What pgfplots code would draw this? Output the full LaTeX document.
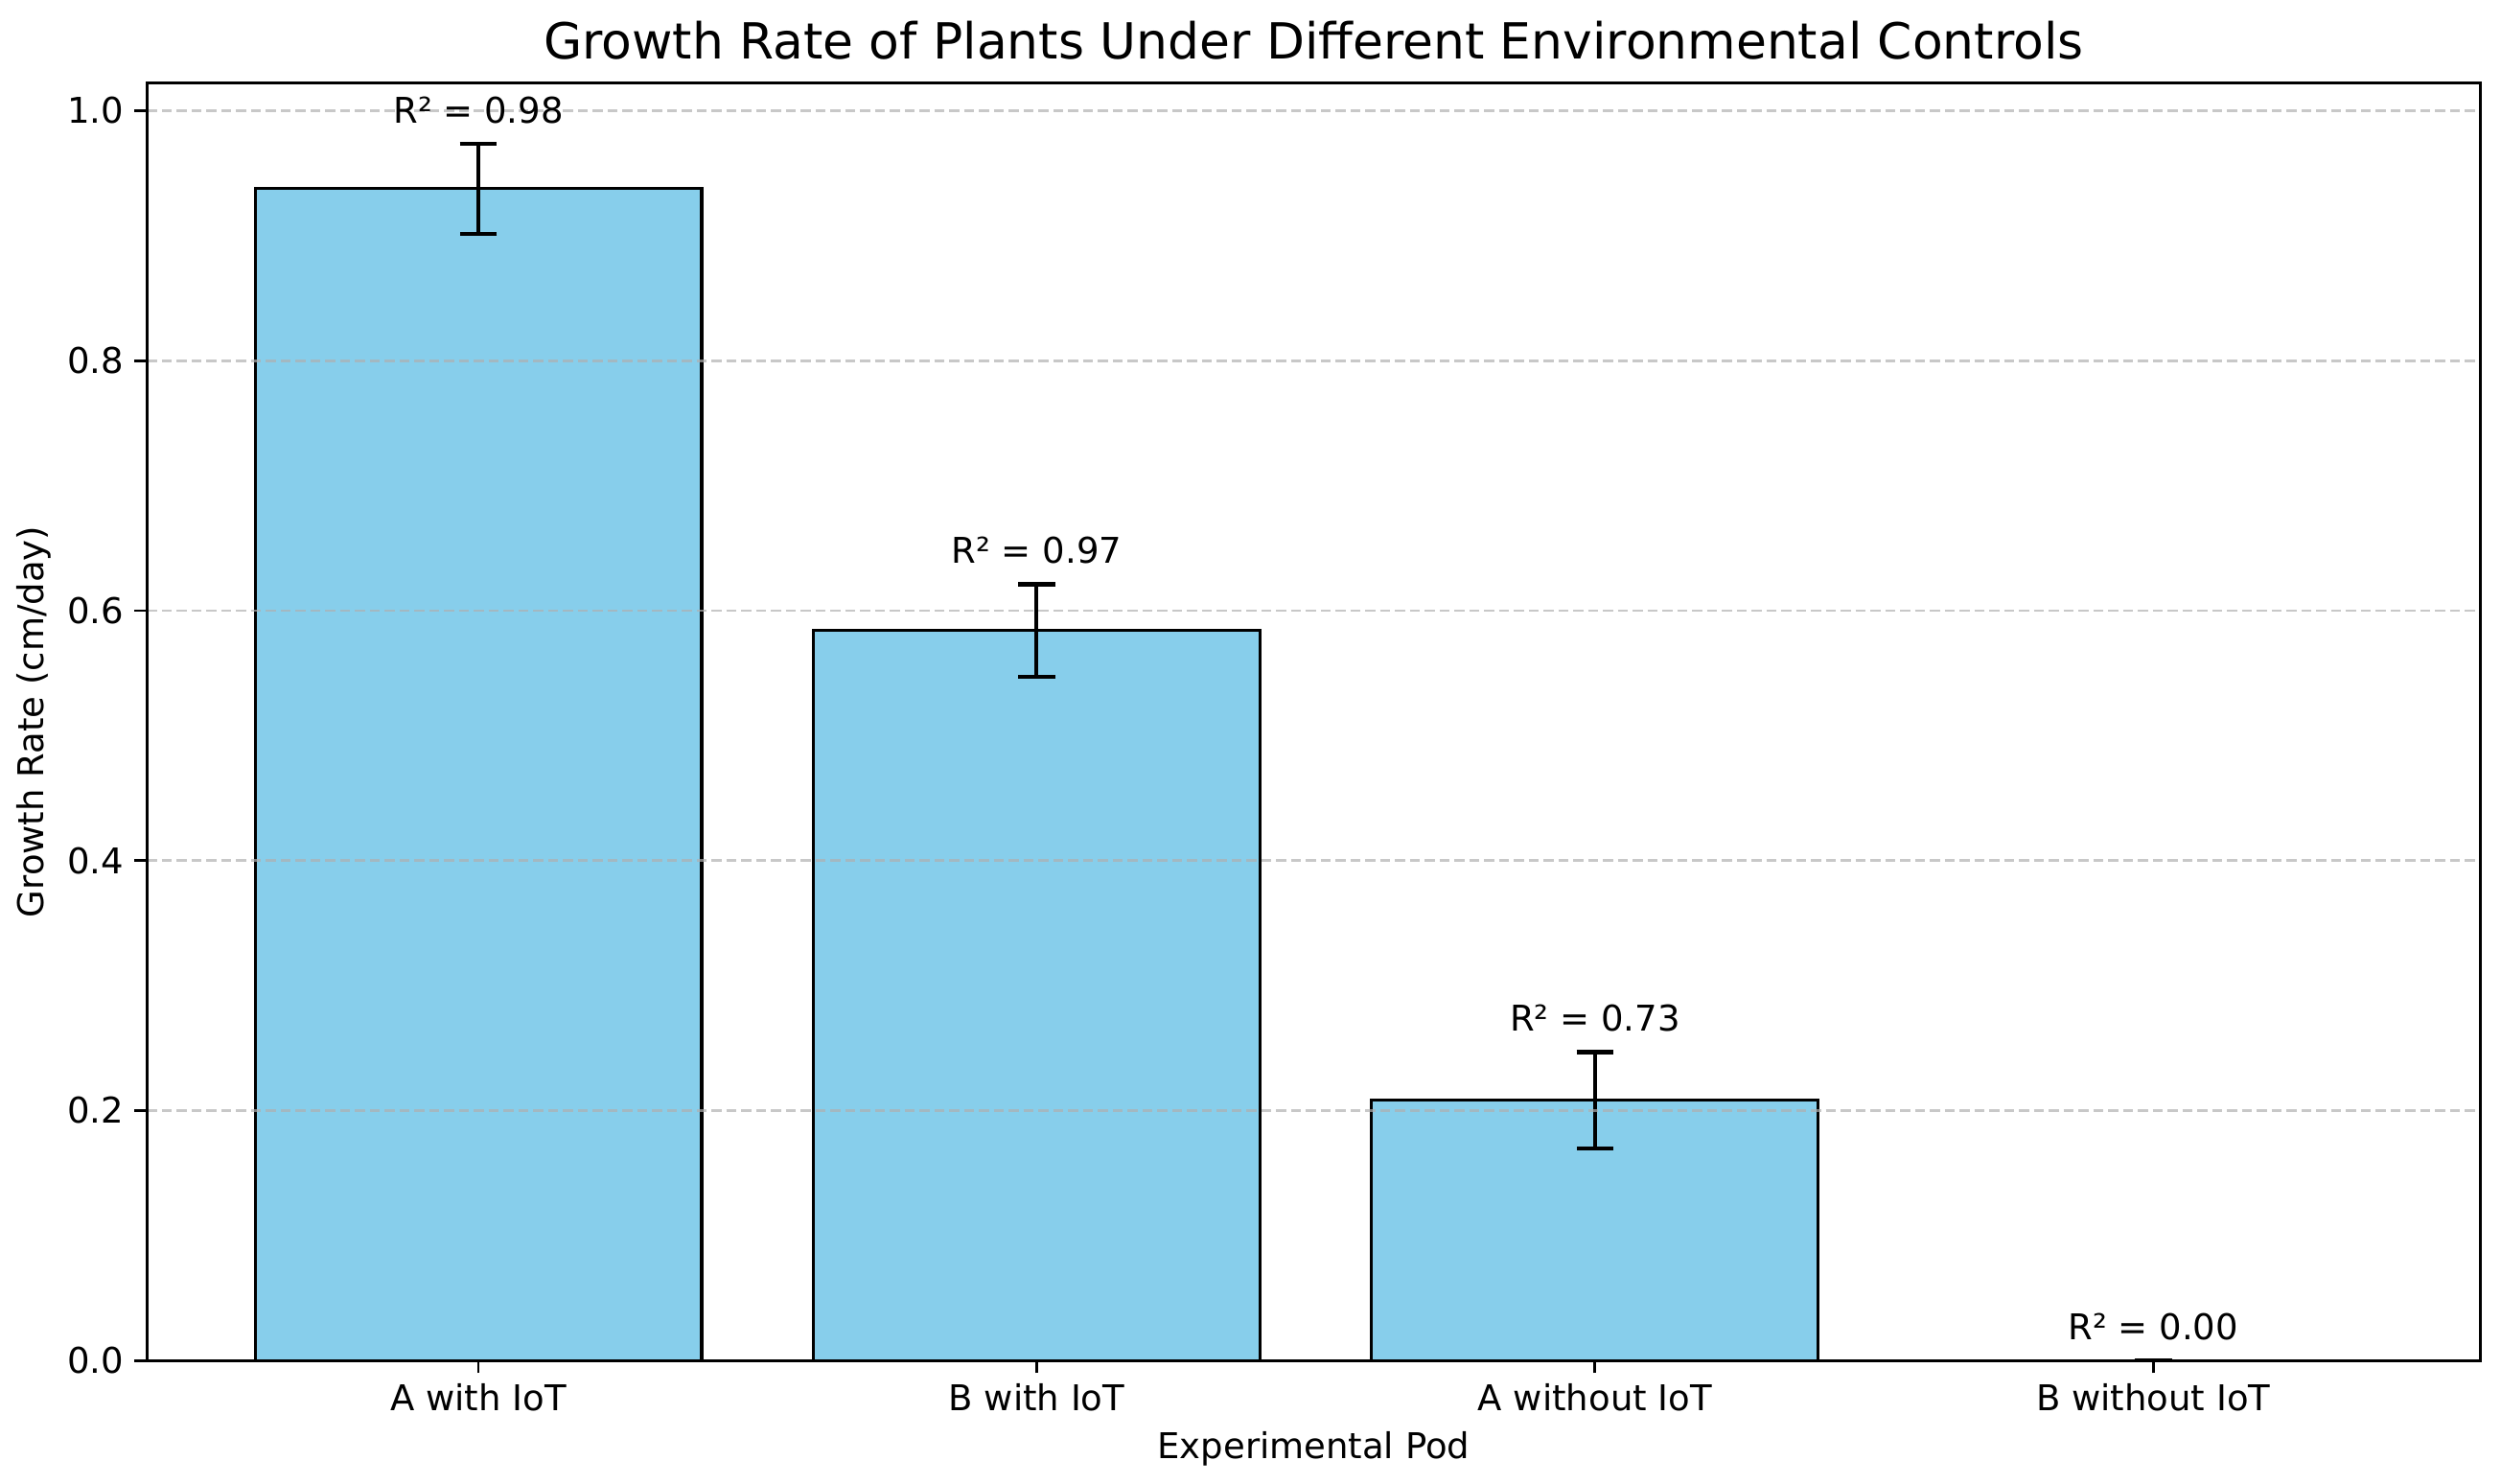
\documentclass[border=0pt]{standalone}
\usepackage{fontspec}
\setmainfont{DejaVu Sans}
\usepackage{pgfplots}
\pgfplotsset{compat=1.18}
\definecolor{skyblue}{HTML}{87CEEB}
\definecolor{gridgray}{HTML}{B0B0B0}

\begin{document}
\begin{tikzpicture}
\path[use as bounding box] (-48.4pt,-40.5pt) rectangle (776.4pt,448.7pt);
\begin{axis}[
  scale only axis, width=769.6pt, height=421.3pt,
  xmin=-0.594, xmax=3.586, ymin=0, ymax=1.022,
  xtick={0,1,2,3},
  xticklabels={A with IoT, B with IoT, A without IoT, B without IoT},
  ytick={0,0.2,0.4,0.6,0.8,1.0},
  yticklabel style={/pgf/number format/.cd, fixed, fixed zerofill, precision=1},
  /pgf/number format/assume math mode=true,
  tick align=outside, tick pos=left,
  major tick length=4.1pt,
  every tick/.style={black, line width=0.9pt},
  axis line style={line width=0.9pt},
  ymajorgrids,
  grid style={gridgray, opacity=0.7, dash pattern=on 3.4pt off 1.5pt, line width=0.9pt},
  axis on top,
  ticklabel style={font=\fontsize{11.7}{14}\selectfont},
  label style={font=\fontsize{11.7}{14}\selectfont},
  ylabel style={yshift=-1.5pt},
  title style={font=\fontsize{16.4}{19}\selectfont, at={(0.5,1)}, anchor=base, yshift=1.8pt},
  title={Growth Rate of Plants Under Different Environmental Controls},
  xlabel={Experimental Pod},
  ylabel={Growth Rate (cm/day)},
]
% bars with standard error
\addplot[ybar, bar width=0.8, fill=skyblue, draw=black, line width=1pt,
  error bars/.cd, y dir=both, y explicit,
  error bar style={line width=1.3pt, black},
  error mark options={rotate=90, mark size=6.1pt, line width=1.3pt, black}]
  coordinates {
    (0,0.9375) +- (0,0.036)
    (1,0.584)  +- (0,0.037)
    (2,0.2083) +- (0,0.0385)
    (3,0.0)    +- (0,0.0)
  };
% R^2 annotations (top of error bar + 0.01)
\addplot[draw=none, mark=none, point meta=explicit symbolic,
  nodes near coords,
  nodes near coords style={anchor=south, inner sep=0pt, yshift=2.4pt,
    font=\fontsize{11.7}{14}\selectfont, black}]
  coordinates {
    (0,0.9835) [R² = 0.98]
    (1,0.631)  [R² = 0.97]
    (2,0.2568) [R² = 0.73]
    (3,0.01)   [R² = 0.00]
  };
\end{axis}
\end{tikzpicture}
\end{document}
